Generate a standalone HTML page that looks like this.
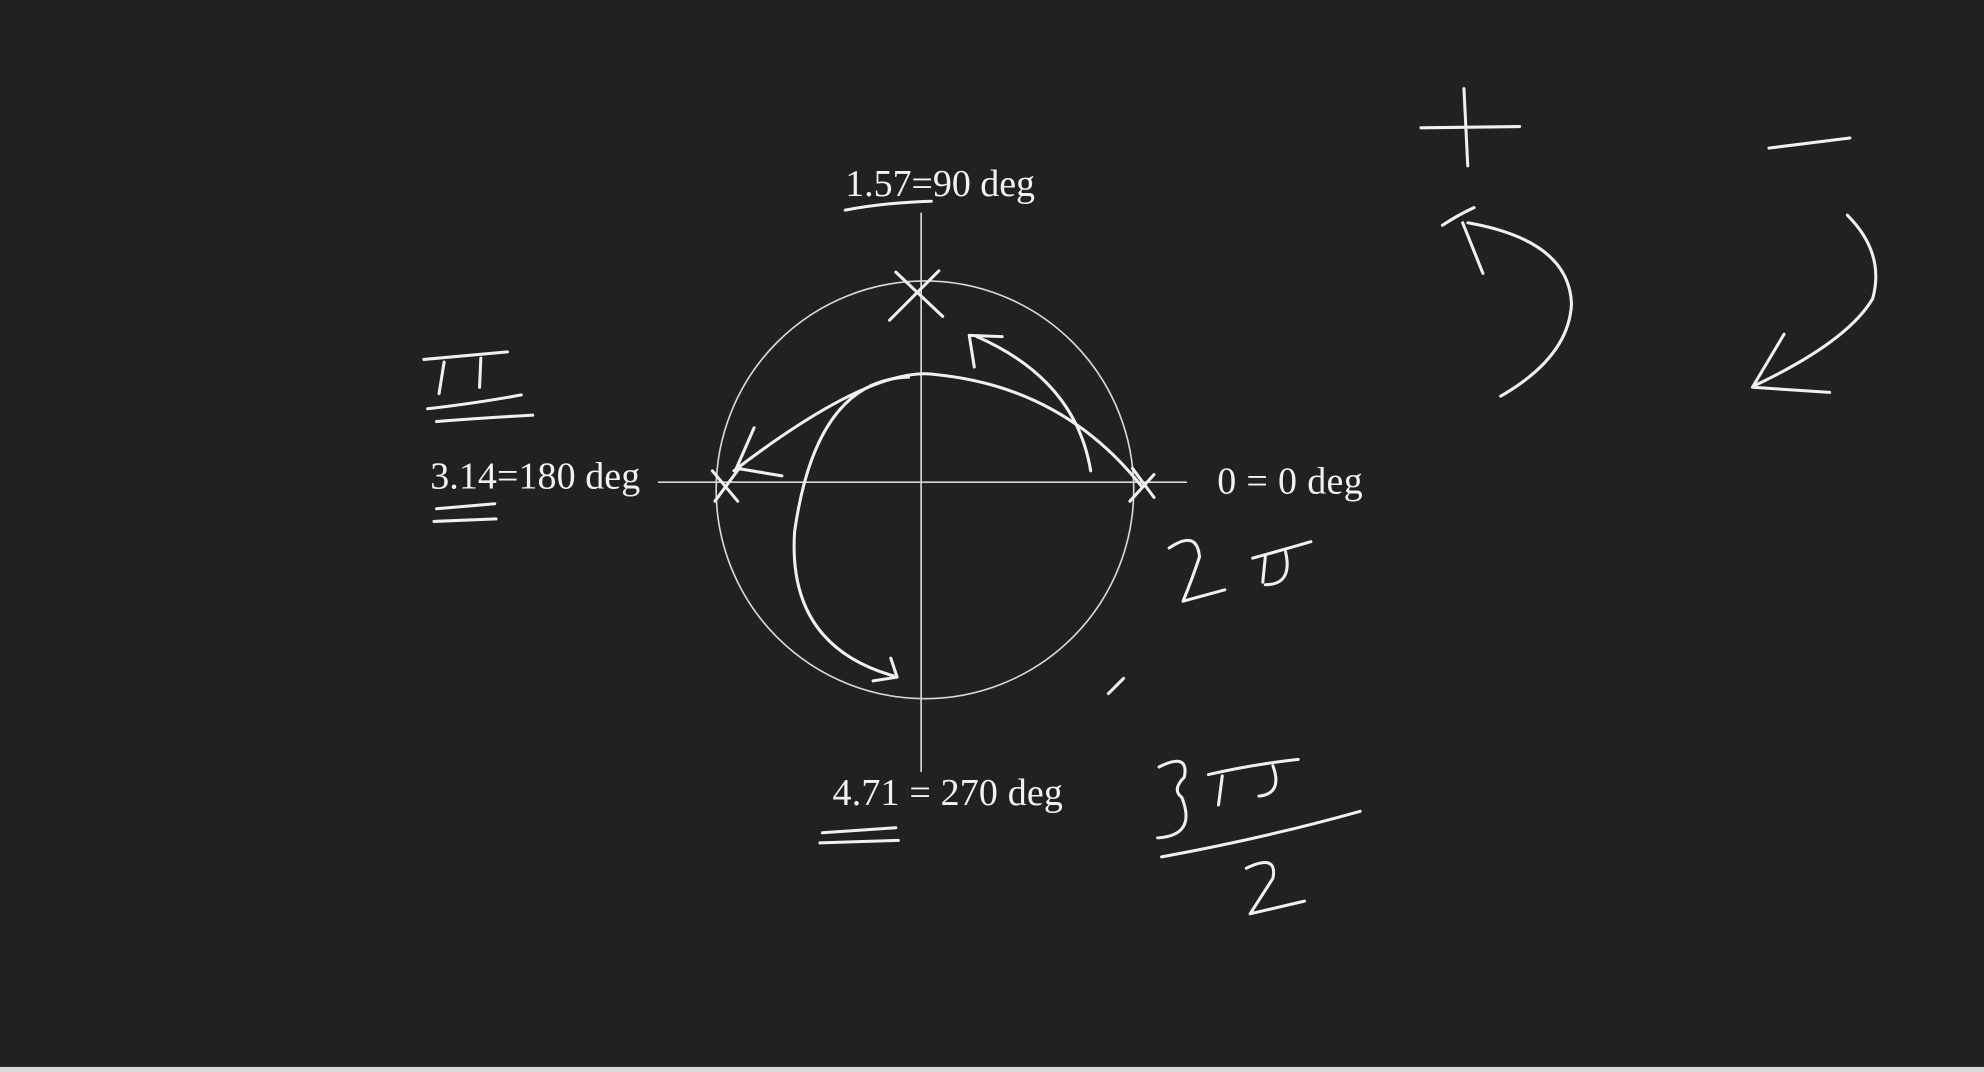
<!DOCTYPE html>
<html>
<head>
<meta charset="utf-8">
<style>
  html,body{margin:0;padding:0;background:#212121;}
  body{width:1984px;height:1072px;overflow:hidden;}
  svg{display:block;}
  text{font-family:"Liberation Serif",serif;fill:#f2f2f2;font-size:30px;}
  .s{fill:none;stroke:#f0f0f0;stroke-width:2.4;stroke-linecap:round;stroke-linejoin:round;}
  .t{fill:none;stroke:#d8d8d8;stroke-width:1.3;}
</style>
</head>
<body>
<svg width="1984" height="1072" viewBox="0 0 1568 847" preserveAspectRatio="none">
  <rect x="0" y="0" width="1568" height="847" fill="#212121"/>
  <rect x="0" y="843" width="1568" height="4" fill="#d9d9d9"/>

  <g>
    <circle class="t" cx="731" cy="387" r="165"/>
    <line class="t" x1="520" y1="381" x2="938" y2="381"/>
    <line class="t" x1="728" y1="168" x2="728" y2="610"/>
  </g>

  <text x="668" y="155" textLength="150">1.57=90 deg</text>
  <text x="340" y="386" textLength="166">3.14=180 deg</text>
  <text x="962" y="390" textLength="115">0 = 0 deg</text>
  <text x="658" y="636" textLength="182">4.71 = 270 deg</text>

  <g>
    <path class="s" d="M668,166 Q700,160 736,159"/>
    <path class="s" d="M708,215 L745,250 M742,214 L703,253"/>
    <path class="s" d="M563,372 L583,396 M585,369 L565,396"/>
    <path class="s" d="M895,370 L912,393 M912,375 L893,396"/>
    <path class="s" d="M580,372 Q690,288 740,296 Q840,306 902,384"/>
    <path class="s" d="M596,338 L582,370 L618,376"/>
    <path class="s" d="M718,298 Q645,300 628,420 Q622,510 706,534"/>
    <path class="s" d="M704,520 L709,535 L690,538"/>
    <path class="s" d="M862,372 Q850,300 772,266"/>
    <path class="s" d="M770,290 L766,265 L792,266"/>
    <path class="s" d="M335,284 L401,278 M351,286 L347,311 M380,283 L379,306 M338,323 Q380,318 412,312 M345,333 Q385,330 421,328"/>
    <path class="s" d="M345,402 L391,398 M343,412 L392,410"/>
    <path class="s" d="M924,433 Q946,418 948,440 Q942,458 935,475 L968,466 M990,441 Q1012,435 1036,428 M1000,440 L998,460 M1016,436 Q1022,462 1000,462"/>
    <path class="s" d="M916,606 Q940,594 936,614 Q926,624 934,630 Q946,660 915,662 M955,612 Q990,604 1026,600 M966,613 L963,636 M1006,605 Q1014,627 995,629"/>
    <path class="s" d="M918,677 Q1000,662 1075,641"/>
    <path class="s" d="M985,686 Q1010,674 1006,694 L988,722 L1031,712"/>
    <path class="s" d="M650,658 L708,654 M648,666 L710,664"/>
    <path class="s" d="M876,548 L888,536"/>
    <path class="s" d="M1123,101 L1201,100 M1157,70 L1160,131"/>
    <path class="s" d="M1160,176 Q1240,190 1242,240 Q1240,282 1186,313 M1140,178 Q1152,170 1165,164 M1156,176 L1172,216"/>
    <path class="s" d="M1398,117 L1462,109"/>
    <path class="s" d="M1460,170 Q1490,200 1480,236 Q1460,270 1386,305 M1410,264 L1385,306 L1446,310"/>
  </g>
</svg>
</body>
</html>
